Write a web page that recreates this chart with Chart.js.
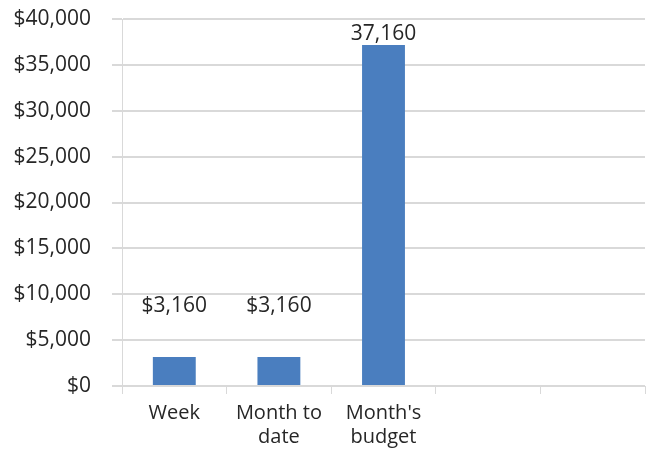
<!DOCTYPE html>
<html>
<head>
<meta charset="utf-8">
<script src="https://cdn.jsdelivr.net/npm/chart.js@4"></script>
<style>
  html, body { margin: 0; padding: 0; background: #fff; }
  #wrap { width: 652px; height: 450px; }
</style>
</head>
<body>
<div id="wrap"><canvas id="mainChart"></canvas></div>
<script>
const categories = [['Week'], ['Month to', 'date'], ["Month's", 'budget'], '', ''];
const values = [3160, 3160, 37160, null, null];
const valueLabels = ['$3,160', '$3,160', '37,160', '', ''];
const yTicks = [0, 5000, 10000, 15000, 20000, 25000, 30000, 35000, 40000];

const textColor = '#262626';
const gridColor = '#d9d9d9';

// labels over the bars (the small ones sit higher, as in the original)
const labelLift = [40, 40, 1, 0, 0];
const barLabels = {
    id: 'barLabels',
    afterDatasetsDraw(chart) {
        const c = chart.ctx;
        const meta = chart.getDatasetMeta(0);
        c.save();
        c.font = '21px "Open Sans"';
        c.fillStyle = textColor;
        c.textAlign = 'center';
        c.textBaseline = 'bottom';
        meta.data.forEach((bar, i) => {
            if (values[i] == null) return;
            c.fillText(valueLabels[i], bar.x, bar.y - labelLift[i]);
        });
        c.restore();
    }
};

new Chart(document.getElementById('mainChart'), {
    type: 'bar',
    data: {
        labels: categories,
        datasets: [{
            data: values,
            backgroundColor: '#4a7ebf',
            categoryPercentage: 1,
            barPercentage: 0.41
        }]
    },
    options: {
        responsive: true,
        maintainAspectRatio: false,
        animation: false,
        layout: { padding: { top: 19, right: 7, left: 0, bottom: 0 } },
        plugins: { legend: { display: false }, tooltip: { enabled: false } },
        scales: {
            x: {
                grid: {
                    offset: true,
                    drawOnChartArea: false,
                    drawTicks: true,
                    tickLength: 8,
                    color: gridColor
                },
                border: { color: gridColor },
                ticks: { color: textColor, font: { family: 'Open Sans', size: 20 }, padding: 7, maxRotation: 0 },
                afterFit: s => { s.height = 64; }
            },
            y: {
                min: 0,
                max: 40000,
                afterBuildTicks: s => { s.ticks = yTicks.map(v => ({ value: v })); },
                grid: { color: gridColor, tickLength: 10, lineWidth: 2 },
                border: { color: gridColor },
                ticks: {
                    color: textColor,
                    font: { family: 'Open Sans', size: 21 },
                    padding: 21,
                    callback: v => '$' + v.toLocaleString('en-US')
                },
                afterFit: s => { s.width = 122; s.paddingTop = 0; s.paddingBottom = 0; }
            }
        }
    },
    plugins: [barLabels]
});
</script>
</body>
</html>
